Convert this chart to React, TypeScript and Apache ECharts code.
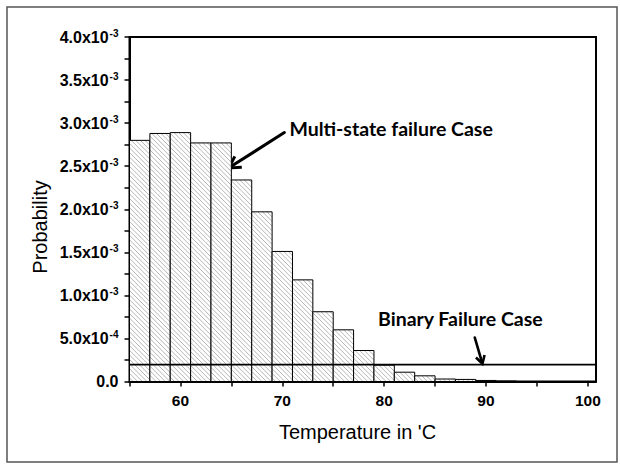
import React, { useEffect, useRef } from "react";
import * as echarts from "echarts";

// Histogram bins (centre temperature in °C, each bin 2 °C wide)
const binCenters = [56, 58, 60, 62, 64, 66, 68, 70, 72, 74, 76, 78, 80, 82, 84, 86, 88, 90, 92];
const binWidth = 2;
// Probability per bin for the multi-state failure case
const multiStateProb = [
  2.8e-3, 2.88e-3, 2.89e-3, 2.77e-3, 2.77e-3, 2.34e-3, 1.97e-3, 1.51e-3, 1.18e-3, 0.81e-3,
  0.6e-3, 0.36e-3, 0.19e-3, 0.108e-3, 0.066e-3, 0.029e-3, 0.024e-3, 0.012e-3, 0.005e-3,
];
// Constant probability of the binary failure case
const binaryProb = 1.95e-4;

// Axis ranges and ticks
const xMin = 55;
const xMax = 100.8;
const xTickValues = [55, 60, 65, 70, 75, 80, 85, 90, 95, 100];
const xLabelValues = [60, 70, 80, 90, 100];
const yMin = 0;
const yMax = 4e-3;
const yTickValues = [
  0, 0.25e-3, 0.5e-3, 0.75e-3, 1e-3, 1.25e-3, 1.5e-3, 1.75e-3, 2e-3, 2.25e-3, 2.5e-3, 2.75e-3,
  3e-3, 3.25e-3, 3.5e-3, 3.75e-3, 4e-3,
];
const yLabelValues = [0, 0.5e-3, 1e-3, 1.5e-3, 2e-3, 2.5e-3, 3e-3, 3.5e-3, 4e-3];
const yLabelMantissa = ["0.0", "5.0", "1.0", "1.5", "2.0", "2.5", "3.0", "3.5", "4.0"];
const yLabelExponent = ["", "-4", "-3", "-3", "-3", "-3", "-3", "-3", "-3"];

const AXIS_FONT = "'Liberation Sans', Arial, sans-serif";
const NOTE_FONT = "Lato, 'Open Sans', sans-serif";

function formatY(v: number): string {
  let idx = -1;
  yLabelValues.forEach((lv, i) => {
    if (Math.abs(lv - v) < 1e-9) idx = i;
  });
  if (idx < 0) return "";
  if (!yLabelExponent[idx]) return `{m|${yLabelMantissa[idx]}}`;
  return `{m|${yLabelMantissa[idx]}x10}{e|${yLabelExponent[idx]}}`;
}

// Diagonally hatched histogram bar
function renderBar(params: any, api: any) {
  const x = api.value(0);
  const y = api.value(1);
  const p0 = api.coord([x - binWidth / 2, y]);
  const p1 = api.coord([x + binWidth / 2, 0]);
  const rx = p0[0];
  const ry = p0[1];
  const rw = p1[0] - p0[0];
  const rh = p1[1] - p0[1];
  const children: any[] = [
    { type: "rect", shape: { x: rx, y: ry, width: rw, height: rh }, style: { fill: "#fff" } },
  ];
  const step = 4.6;
  const cMin = rx - (ry + rh);
  const cMax = rx + rw - ry;
  for (let c = Math.ceil(cMin / step) * step; c <= cMax; c += step) {
    const ya = Math.max(ry, rx - c);
    const yb = Math.min(ry + rh, rx + rw - c);
    if (yb > ya) {
      children.push({
        type: "line",
        shape: { x1: ya + c, y1: ya, x2: yb + c, y2: yb },
        style: { stroke: "#a3a3a3", lineWidth: 0.8 },
      });
    }
  }
  children.push({
    type: "rect",
    shape: { x: rx, y: ry, width: rw, height: rh },
    style: { fill: "none", stroke: "#000", lineWidth: 1 },
  });
  return { type: "group", children };
}

function arrow(tail: number[], tip: number[], head: number, width: number) {
  const dx = tip[0] - tail[0];
  const dy = tip[1] - tail[1];
  const len = Math.hypot(dx, dy);
  const ux = dx / len;
  const uy = dy / len;
  const ang = Math.PI / 6;
  const arm = (s: number) => [
    tip[0] - head * (ux * Math.cos(ang) - s * uy * Math.sin(ang)),
    tip[1] - head * (uy * Math.cos(ang) + s * ux * Math.sin(ang)),
  ];
  return [
    {
      type: "line",
      shape: { x1: tail[0], y1: tail[1], x2: tip[0] - ux * 2, y2: tip[1] - uy * 2 },
      style: { stroke: "#000", lineWidth: width, lineCap: "round" },
    },
    {
      type: "polyline",
      shape: { points: [arm(1), tip, arm(-1)] },
      style: { stroke: "#000", lineWidth: width, fill: "none", lineJoin: "miter" },
    },
  ];
}

export default function App() {
  const ref = useRef<HTMLDivElement>(null);

  useEffect(() => {
    if (!ref.current) return;
    const chart = echarts.init(ref.current, undefined, { renderer: "svg" });
    chart.setOption({
      animation: false,
      backgroundColor: "#fff",
      grid: {
        left: 129.5,
        right: 24,
        top: 37,
        bottom: 82.5,
        show: true,
        borderColor: "#000",
        borderWidth: 2,
        backgroundColor: "transparent",
      },
      xAxis: {
        type: "value",
        min: xMin,
        max: xMax,
        axisLine: { show: true, lineStyle: { color: "#000", width: 2 } },
        axisTick: { show: true, length: 5, lineStyle: { color: "#000", width: 1.5 }, customValues: xTickValues },
        axisLabel: {
          customValues: xLabelValues,
          margin: 11,
          fontFamily: AXIS_FONT,
          fontWeight: "bold",
          fontSize: 15.5,
          color: "#000",
        },
        splitLine: { show: false },
      },
      yAxis: {
        type: "value",
        min: yMin,
        max: yMax,
        axisLine: { show: true, lineStyle: { color: "#000", width: 2 } },
        axisTick: { show: true, length: 5, lineStyle: { color: "#000", width: 1.5 }, customValues: yTickValues },
        axisLabel: {
          customValues: yLabelValues,
          margin: 11,
          formatter: formatY,
          rich: {
            m: { fontFamily: AXIS_FONT, fontWeight: "bold", fontSize: 16, color: "#000", lineHeight: 18 },
            e: {
              fontFamily: AXIS_FONT,
              fontWeight: "bold",
              fontSize: 10,
              color: "#000",
              verticalAlign: "top",
              lineHeight: 18,
              padding: [0, 0, 0, 1],
            },
          },
        },
        splitLine: { show: false },
      },
      series: [
        {
          name: "Multi-state failure Case",
          type: "custom",
          renderItem: renderBar,
          encode: { x: 0, y: 1 },
          data: binCenters.map((c, i) => [c, multiStateProb[i]]),
          z: 2,
        },
        {
          name: "Binary Failure Case",
          type: "line",
          data: [
            [xMin, binaryProb],
            [xMax, binaryProb],
          ],
          symbol: "none",
          lineStyle: { color: "#000", width: 1.8 },
          z: 5,
        },
      ],
    });

    const px = (x: number, y: number) => chart.convertToPixel({ gridIndex: 0 }, [x, y]) as number[];
    const msTail = px(70.2, 2.89e-3);
    const msTip = px(64.75, 2.48e-3);
    const msText = px(70.7, 2.935e-3);
    const bTail = px(88.9, 0.51e-3);
    const bTip = px(89.65, 0.206e-3);
    const bText = px(79.4, 0.728e-3);

    chart.setOption({
      graphic: [
        {
          type: "rect",
          shape: { x: 7, y: 7, width: 610, height: 455 },
          style: { fill: "none", stroke: "#555", lineWidth: 1.5 },
          silent: true,
        },
        // axis titles
        {
          type: "text",
          x: 40,
          y: 227,
          rotation: Math.PI / 2,
          style: {
            text: "Probability",
            font: `20px ${AXIS_FONT}`,
            fill: "#000",
            align: "center",
            verticalAlign: "middle",
          },
        },
        {
          type: "text",
          x: 357.5,
          y: 432,
          style: {
            text: "Temperature in 'C",
            font: `20px ${AXIS_FONT}`,
            fill: "#000",
            align: "center",
            verticalAlign: "middle",
          },
        },
        ...arrow(msTail, msTip, 13, 3),
        ...arrow(bTail, bTip, 9, 2.6),
        {
          type: "text",
          x: msText[0],
          y: msText[1],
          style: {
            text: "Multi-state failure Case",
            font: `bold 19.5px ${NOTE_FONT}`,
            fill: "#000",
            verticalAlign: "middle",
            align: "left",
          },
        },
        {
          type: "text",
          x: bText[0],
          y: bText[1],
          style: {
            text: "Binary Failure Case",
            font: `bold 19.5px ${NOTE_FONT}`,
            fill: "#000",
            verticalAlign: "middle",
            align: "left",
          },
        },
      ],
    });

    return () => chart.dispose();
  }, []);

  return (
    <div
      ref={ref}
      style={{ position: "fixed", left: 0, top: 0, width: 620, height: 464, background: "#fff" }}
    />
  );
}
